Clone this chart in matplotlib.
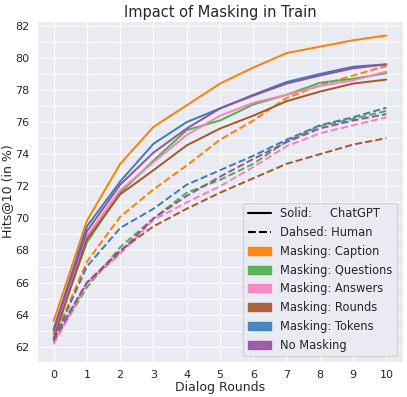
import matplotlib
matplotlib.use("Agg")
import matplotlib.pyplot as plt
from matplotlib.lines import Line2D
from matplotlib.patches import Patch
import matplotlib.ticker as Ticker
import seaborn as sns

rounds = list(range(11))
labels = ["Masking: Caption", "Masking: Questions", "Masking: Answers",
          "Masking: Rounds", "Masking: Tokens", "No Masking"]
colors = ["#ff7f00", "#4daf4a", "#f781bf", "#a65628", "#377eb8", "#984ea3"]

# solid = ChatGPT
chatgpt = {
    "Masking: Caption":   [63.6, 69.85, 73.4, 75.7, 77.05, 78.4, 79.4, 80.3, 80.7, 81.1, 81.4],
    "Masking: Questions": [62.8, 68.5, 71.6, 73.6, 75.5, 76.1, 77.1, 77.7, 78.45, 78.7, 79.05],
    "Masking: Answers":   [62.9, 68.9, 71.75, 73.5, 75.2, 76.4, 77.2, 77.7, 78.25, 78.6, 79.15],
    "Masking: Rounds":    [62.5, 68.7, 71.5, 73.0, 74.55, 75.6, 76.4, 77.3, 77.9, 78.4, 78.65],
    "Masking: Tokens":    [63.1, 69.5, 72.3, 74.65, 76.0, 76.85, 77.7, 78.5, 79.0, 79.45, 79.6],
    "No Masking":         [63.0, 69.2, 72.1, 74.1, 75.6, 76.85, 77.65, 78.4, 78.9, 79.35, 79.6],
}
# dashed = Human
human = {
    "Masking: Caption":   [62.5, 67.3, 70.1, 71.8, 73.3, 74.9, 76.1, 77.5, 78.3, 78.9, 79.5],
    "Masking: Questions": [62.3, 65.7, 68.2, 70.0, 71.6, 72.4, 73.4, 74.8, 75.75, 76.2, 76.7],
    "Masking: Answers":   [62.15, 65.9, 67.8, 69.9, 71.0, 72.0, 73.2, 74.5, 75.3, 75.8, 76.3],
    "Masking: Rounds":    [62.5, 66.0, 68.0, 69.5, 70.6, 71.6, 72.5, 73.4, 74.0, 74.6, 75.0],
    "Masking: Tokens":    [62.4, 67.0, 69.4, 70.6, 72.1, 73.0, 73.9, 74.9, 75.8, 76.3, 76.9],
    "No Masking":         [62.4, 66.0, 67.9, 70.0, 71.4, 72.6, 73.7, 74.75, 75.6, 76.1, 76.5],
}

sns.set_style("darkgrid")

fig = plt.figure(figsize=(4.07, 3.97), dpi=100)
# axes box in pixels: x 37..403, y 21..362
ax = fig.add_axes([37 / 407, 35 / 397, 366 / 407, 341 / 397])

for name, c in zip(labels, colors):
    ax.plot(rounds, chatgpt[name], color=c, lw=1.4)
    ax.plot(rounds, human[name], color=c, lw=1.4, ls="--")

ax.set_xlim(-0.5, 10.5)
ax.set_ylim(61.05, 82.3)
ax.set_xticks(rounds)
ax.yaxis.set_major_locator(Ticker.MultipleLocator(2))
ax.yaxis.set_minor_locator(Ticker.MultipleLocator(1))
ax.grid(which="minor", axis="y", color="white", lw=0.8)
ax.tick_params(labelsize=8, pad=2)

ax.set_title("Impact of Masking in Train", fontsize=10.5, pad=3)
ax.set_xlabel("Dialog Rounds", fontsize=9, labelpad=1)
ax.set_ylabel("Hits@10 (in %)", fontsize=9, labelpad=1)

handles = [Line2D([], [], color="black", lw=1.5),
           Line2D([], [], color="black", lw=1.5, ls="--")]
handles += [Patch(color=c, alpha=0.9) for c in colors]
ax.legend(handles, ["Solid:     ChatGPT", "Dahsed: Human"] + labels,
          loc="lower right", fontsize=8.3, handlelength=2.0,
          labelspacing=0.5, borderaxespad=0.5)

fig.savefig("out.png", dpi=100)
